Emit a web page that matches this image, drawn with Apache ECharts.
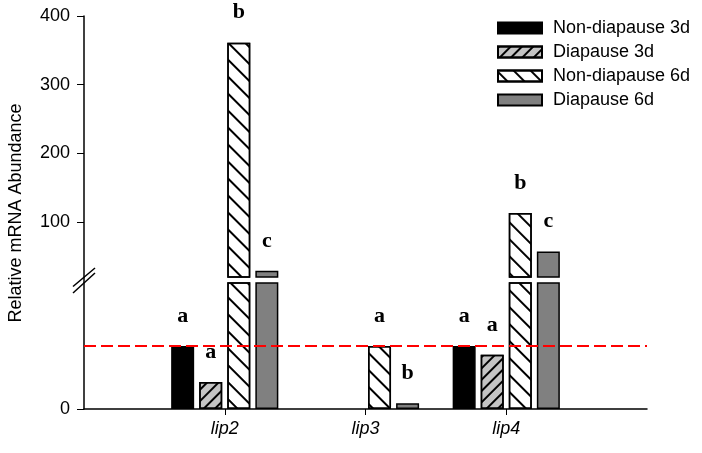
<!DOCTYPE html>
<html><head><meta charset="utf-8">
<script src="https://cdn.jsdelivr.net/npm/echarts@6/dist/echarts.min.js"></script>
<style>html,body{margin:0;padding:0;background:#fff}#c{width:702px;height:453px}</style>
</head><body><div id="c"></div>
<script>
// ---- data ----
const genes = ['lip2', 'lip3', 'lip4'];
const seriesNames = ['Non-diapause 3d', 'Diapause 3d', 'Non-diapause 6d', 'Diapause 6d'];
const nonDiapause3d = [1.0, null, 1.0];
const diapause3d = [0.43, null, 0.86];
const nonDiapause6d = [361, 1.0, 113];
const diapause6d = [29, 0.09, 57];
const lettersND3 = ['a', '', 'a'];
const lettersD3 = ['a', '', 'a'];
const lettersND6 = ['b', 'a', 'b'];
const lettersD6 = ['c', 'b', 'c'];
const upperTicks = [100, 200, 300, 400];
const lowerTicks = [0];
const referenceLevel = 1;
const lowerMax = 2, upperMin = 20, upperMax = 400;
const yTitle = 'Relative mRNA Abundance';

// ---- build ----
const cats = [''].concat(genes, ['']);
const pad = a => [null].concat(a, [null]);
const values = [nonDiapause3d, diapause3d, nonDiapause6d, diapause6d];
const letters = [lettersND3, lettersD3, lettersND6, lettersD6].map(pad);
const FONT = 'Liberation Sans, Arial, sans-serif';

const styles = [
  { color: '#000000' },
  { color: '#c4c4c4', decal: { symbol: 'rect', symbolSize: 1, color: '#000', dashArrayX: [1, 0], dashArrayY: [1.5, 6], rotation: -Math.PI / 4 } },
  { color: '#ffffff', decal: { symbol: 'rect', symbolSize: 1, color: '#000', dashArrayX: [1, 0], dashArrayY: [1.5, 10], rotation: Math.PI / 4 } },
  { color: '#808080' }
];

const labelBase = { show: true, position: 'top', distance: 19, fontFamily: 'Liberation Serif, Times New Roman, serif', fontWeight: 'bold', fontSize: 22, color: '#000' };

const series = [];
values.forEach((vals, k) => {
  const full = pad(vals);
  const st = Object.assign({ borderColor: '#000', borderWidth: 1.5 }, styles[k]);
  const lower = {
    name: seriesNames[k], type: 'bar', xAxisIndex: 1, yAxisIndex: 1,
    data: full, barWidth: 23, barGap: '22%', clip: true, itemStyle: st,
    label: Object.assign({}, labelBase, { formatter: p => (p.value != null && p.value <= lowerMax) ? letters[k][p.dataIndex] : '' })
  };
  if (k === 0) {
    lower.markLine = { silent: true, symbol: ['none', 'none'], label: { show: false },
      lineStyle: { color: '#ff0000', width: 2, type: [12, 5] }, data: [{ yAxis: referenceLevel }] };
  }
  series.push(lower);
  series.push({
    name: seriesNames[k], type: 'bar', xAxisIndex: 0, yAxisIndex: 0,
    data: full.map(v => (v != null && v >= upperMin) ? v : null),
    barWidth: 23, barGap: '22%', clip: true, itemStyle: st,
    label: Object.assign({}, labelBase, { formatter: p => letters[k][p.dataIndex] })
  });
});

const axisLineStyle = { color: '#000', width: 1.5 };
const chart = echarts.init(document.getElementById('c'), null, { renderer: 'canvas' });
const option = {
  animation: false,
  backgroundColor: '#fff',
  grid: [
    { left: 84, right: 55, top: 16, height: 261 },
    { left: 84, right: 55, top: 283, height: 126 }
  ],
  xAxis: [
    { type: 'category', gridIndex: 0, data: cats, boundaryGap: false, show: false },
    { type: 'category', gridIndex: 1, data: cats, boundaryGap: false,
      axisLine: { lineStyle: axisLineStyle },
      axisTick: { interval: (i) => i >= 1 && i <= genes.length, length: 6, lineStyle: { color: '#000', width: 1 } },
      axisLabel: { interval: 0, fontFamily: FONT, fontStyle: 'italic', fontSize: 18, color: '#000', margin: 11 } }
  ],
  yAxis: [
    { type: 'value', gridIndex: 0, min: upperMin, max: upperMax,
      axisLine: { show: true, lineStyle: axisLineStyle },
      axisTick: { show: true, customValues: upperTicks, length: 7, lineStyle: { color: '#000', width: 1 } },
      axisLabel: { customValues: upperTicks, fontFamily: FONT, fontSize: 18, color: '#000', margin: 14 },
      splitLine: { show: false } },
    { type: 'value', gridIndex: 1, min: 0, max: lowerMax,
      axisLine: { show: true, lineStyle: axisLineStyle },
      axisTick: { show: true, customValues: lowerTicks, length: 7, lineStyle: { color: '#000', width: 1 } },
      axisLabel: { customValues: lowerTicks, fontFamily: FONT, fontSize: 18, color: '#000', margin: 14 },
      splitLine: { show: false } }
  ],
  legend: {
    data: seriesNames, orient: 'vertical', left: 497, top: 19, padding: 0,
    icon: 'rect', itemWidth: 44, itemHeight: 11, itemGap: 6,
    textStyle: { fontFamily: FONT, fontSize: 18, color: '#000', padding: [0, 0, 0, 6] }
  },
  series: series
};
chart.setOption(option);

// axis break decoration and y-axis title
const pU = chart.convertToPixel({ xAxisIndex: 0, yAxisIndex: 0 }, [0, upperMin]);
const pL = chart.convertToPixel({ xAxisIndex: 1, yAxisIndex: 1 }, [0, lowerMax]);
const bx = pU[0], bm = (pU[1] + pL[1]) / 2;
chart.setOption({
  graphic: [
    { type: 'line', shape: { x1: bx, y1: pU[1], x2: bx, y2: pL[1] }, style: { stroke: '#000', lineWidth: 1.5 } },
    { type: 'line', shape: { x1: bx - 11, y1: bm + 6.5, x2: bx + 11, y2: bm - 12 }, style: { stroke: '#000', lineWidth: 1.5 } },
    { type: 'line', shape: { x1: bx - 11, y1: bm + 13, x2: bx + 11, y2: bm - 7 }, style: { stroke: '#000', lineWidth: 1.5 } },
    { type: 'text', x: 16, y: 213, rotation: Math.PI / 2,
      style: { text: yTitle, font: '18px ' + FONT, fill: '#000', align: 'center', verticalAlign: 'middle' } }
  ]
});
</script>
</body></html>
